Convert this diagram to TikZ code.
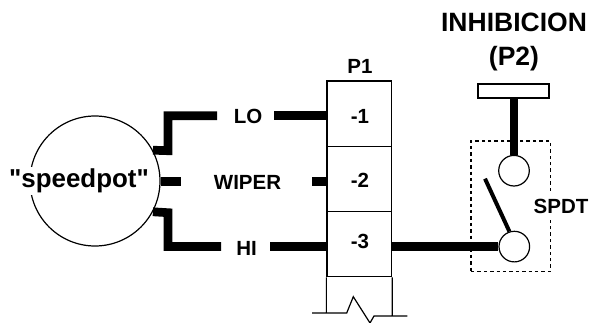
\documentclass[tikz,border=0pt]{standalone}
\usepackage{fontspec}
\setmainfont{Liberation Sans}
\newfontfamily\potfont{Liberation Sans}
\usetikzlibrary{positioning, shapes}
\tikzset{
    wire/.style={line width=8.7pt},
    thin_line/.style={line width=1.2pt},
    slot/.style={rectangle, draw, thin_line, minimum width=64.7pt, minimum height=65.3pt, inner sep=0pt},
    contact/.style={circle, draw, thin_line, fill=white, minimum size=30.6pt, inner sep=0pt},
    label_big/.style={font=\fontsize{26.5}{28}\selectfont\bfseries, inner sep=0pt},
    label_small/.style={font=\fontsize{20.5}{24}\selectfont\bfseries, inner sep=0pt}
}
\begin{document}
\begin{tikzpicture}[x=1pt,y=-1pt,line join=miter]
        \useasboundingbox (0,0) rectangle (591,323);

        \node at (95,181) [circle, draw, thin_line, minimum size=130pt, inner sep=0pt] (pot) {};
        \node at (79,181) [font=\potfont\fontsize{25.9}{28}\selectfont\bfseries, inner sep=0pt, fill=white, inner ysep=2pt] (pot_text) {"speedpot"};

        \node at (248,116) [label_small] (lo) {LO};
        \node at (247.5,182) [label_small] (wiper) {WIPER};
        \node at (246.5,248) [label_small] (hi) {HI};

        \node at (359.3,113.6) [slot] (slot1) {};
        \node at (359.3,178.8) [slot] (slot2) {};
        \node at (359.3,244) [slot] (slot3) {};
        \node at (360,66) [label_small] (p1) {P1};
        \node at (360,116.7) [label_small] (pin1) {-1};
        \node at (360,180) [label_small] (pin2) {-2};
        \node at (360,241) [label_small] (pin3) {-3};

        \node at (510.6,206.3) [rectangle, draw, line width=1.3pt, dash pattern=on 3.4pt off 3pt, minimum width=79.3pt, minimum height=130.7pt] (spdt_box) {};
        \node at (561,206.7) [label_small, fill=white, inner ysep=5pt] (spdt) {SPDT};

        \node at (513.5,91) [rectangle, draw, thin_line, minimum width=71pt, minimum height=14pt, inner sep=0pt] (bar) {};
        \node at (514,170.7) [contact] (sw_top) {};
        \node at (514.3,246.6) [contact] (sw_com) {};
        \node at (514,22.7) [label_big] (inhib) {INHIBICION};
        \node at (514,59) [label_big] (p2) {(P2)};

        \coordinate (lo_end) at (217,115.7);
        \coordinate (lo_start) at (274,115.7);
        \coordinate (wiper_end) at (181,181.6);
        \coordinate (wiper_start) at (312,181.3);
        \coordinate (hi_end) at (221,246.5);
        \coordinate (hi_start) at (270,246.5);
        \coordinate (arm_end) at (485,178.7);

        \coordinate (break_a) at (312,313);
        \coordinate (break_b) at (346.7,313);
        \coordinate (break_c) at (353.3,296.7);
        \coordinate (break_d) at (370,323);
        \coordinate (break_e) at (374,316);
        \coordinate (break_f) at (407.3,316);

        \draw[wire] (pot.28) -- (168,150.7) -- (168,115.7) -- (lo_end);
        \draw[wire] (lo_start) -- (lo_start -| slot1.west);
        \draw[wire] (pot.east |- wiper_end) -- (wiper_end);
        \draw[wire] (wiper_start) -- (wiper_start -| slot2.west);
        \draw[wire] (pot.-28) -- (168,212.7) -- (168,246.5) -- (hi_end);
        \draw[wire] (hi_start) -- (hi_start -| slot3.west);
        \draw[wire] (slot3.east |- sw_com) -- (sw_com.west);
        \draw[wire] (bar.south -| sw_top) -- (sw_top.north);
        \draw[line width=4pt] (arm_end) -- (sw_com.108);

        \draw[thin_line] (slot3.south west) -- (slot3.south west |- break_a)
                         (slot3.south east) -- (slot3.south east |- break_f)
                         (break_a) -- (break_b) -- (break_c) -- (break_d) -- (break_e) -- (break_f);

\end{tikzpicture}
\end{document}
